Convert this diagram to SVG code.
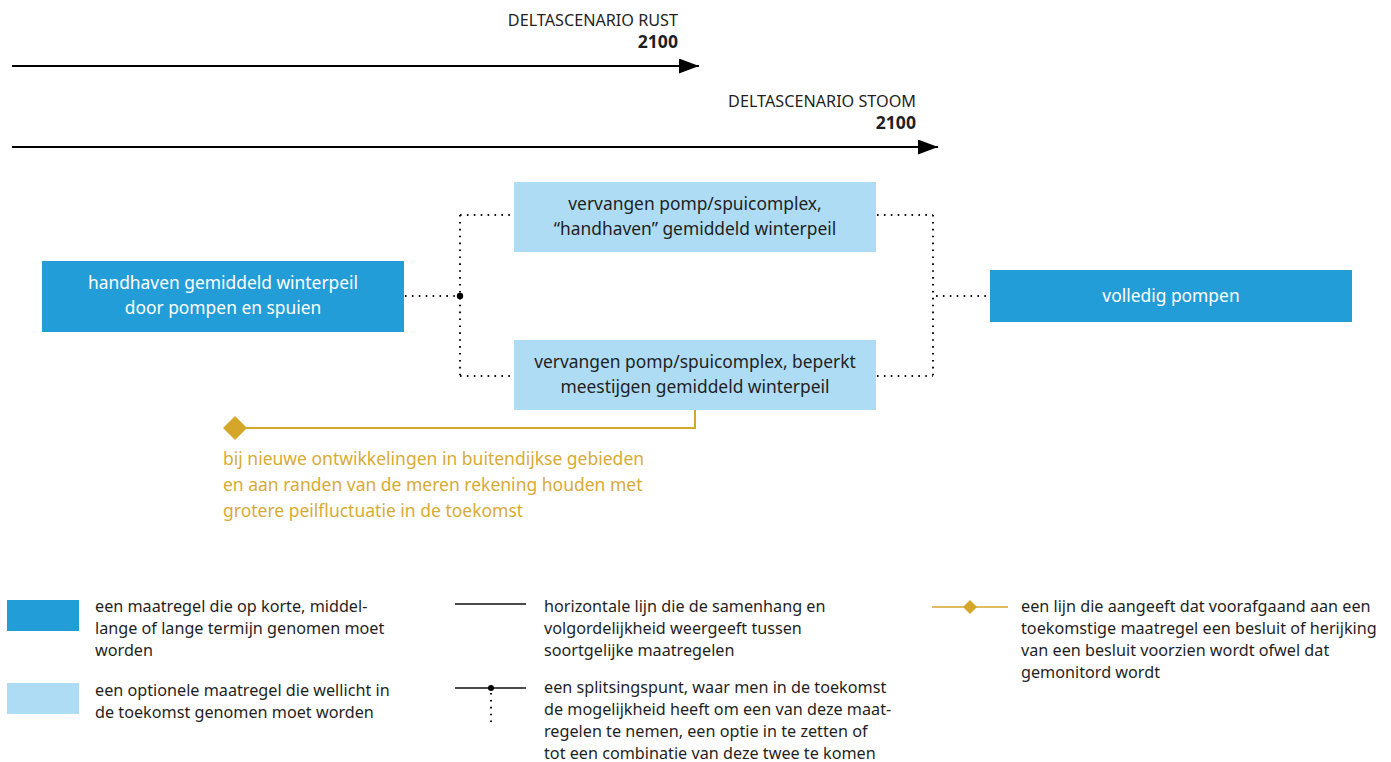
<svg xmlns="http://www.w3.org/2000/svg" width="1391" height="762" viewBox="0 0 1391 762">
<style>
text{font-family:"Noto Sans","Open Sans","Liberation Sans",sans-serif;font-size:17.4px;fill:#1f1f1f}
.w{fill:#ffffff}
.c{text-anchor:middle}
.r{text-anchor:end}
.b{font-weight:bold;font-size:17.6px}
.t{font-size:16.2px}
.g{fill:#d8ab35;font-size:17.5px}
.lg{font-size:16.2px}
.dark{fill:#239dd8}
.light{fill:#aedcf4}
.dot{fill:none;stroke:#111;stroke-width:2;stroke-dasharray:1.6 5.3;stroke-linecap:butt}
.gold{fill:none;stroke:#d4a62a;stroke-width:2}
</style>
<defs>
<marker id="ah" markerWidth="20" markerHeight="15" refX="20" refY="7.5" orient="auto" markerUnits="userSpaceOnUse">
<path d="M0,0 L20,7.5 L0,15 Z" fill="#000"/>
</marker>
</defs>
<g id="timeline-rust">
<line x1="12" y1="66" x2="699" y2="66" stroke="#000" stroke-width="2" marker-end="url(#ah)"/>
<text class="r t" x="678" y="26">DELTASCENARIO RUST</text>
<text class="r b" x="678" y="48">2100</text>
</g>
<g id="timeline-stoom">
<line x1="12" y1="147" x2="938" y2="147" stroke="#000" stroke-width="2" marker-end="url(#ah)"/>
<text class="r t" x="916" y="107">DELTASCENARIO STOOM</text>
<text class="r b" x="916" y="129">2100</text>
</g>
<g id="connectors">
<path class="dot" d="M405,296 H460"/>
<path class="dot" d="M460,215 V376"/>
<path class="dot" d="M460,215 H514"/>
<path class="dot" d="M460,376 H514"/>
<path class="dot" d="M877,215 H933"/>
<path class="dot" d="M877,376 H933"/>
<path class="dot" d="M933,215 V376"/>
<path class="dot" d="M936,296 H990"/>
<circle cx="460" cy="296" r="3.2" fill="#000"/>
<path class="gold" d="M235,428 H695 V410"/>
<path d="M235,416 L247,428 L235,440 L223,428 Z" fill="#d4a62a"/>
</g>
<g id="node-handhaven">
<rect class="dark" x="42" y="261" width="362" height="71"/>
<text class="w c" x="223" y="289">handhaven gemiddeld winterpeil</text>
<text class="w c" x="223" y="314">door pompen en spuien</text>
</g>
<g id="node-vervangen-handhaven">
<rect class="light" x="514" y="182" width="362" height="70"/>
<text class="c" x="695" y="210">vervangen pomp/spuicomplex,</text>
<text class="c" x="695" y="235">“handhaven” gemiddeld winterpeil</text>
</g>
<g id="node-vervangen-beperkt">
<rect class="light" x="514" y="340" width="362" height="70"/>
<text class="c" x="695" y="368">vervangen pomp/spuicomplex, beperkt</text>
<text class="c" x="695" y="393">meestijgen gemiddeld winterpeil</text>
</g>
<g id="node-volledig">
<rect class="dark" x="990" y="270" width="362" height="52"/>
<text class="w c" x="1171" y="302">volledig pompen</text>
</g>
<g id="note-gold">
<text class="g" x="223" y="465">bij nieuwe ontwikkelingen in buitendijkse gebieden</text>
<text class="g" x="223" y="491">en aan randen van de meren rekening houden met</text>
<text class="g" x="223" y="517">grotere peilfluctuatie in de toekomst</text>
</g>
<g id="legend">
<rect class="dark" x="7" y="600" width="72" height="31"/>
<text class="lg" x="95" y="612">een maatregel die op korte, middel-</text>
<text class="lg" x="95" y="634">lange of lange termijn genomen moet</text>
<text class="lg" x="95" y="656">worden</text>
<rect class="light" x="7" y="683" width="72" height="31"/>
<text class="lg" x="95" y="696">een optionele maatregel die wellicht in</text>
<text class="lg" x="95" y="718">de toekomst genomen moet worden</text>
<line x1="455" y1="604" x2="526" y2="604" stroke="#111" stroke-width="1.5"/>
<text class="lg" x="544" y="612">horizontale lijn die de samenhang en</text>
<text class="lg" x="544" y="634">volgordelijkheid weergeeft tussen</text>
<text class="lg" x="544" y="656">soortgelijke maatregelen</text>
<line x1="455" y1="688" x2="526" y2="688" stroke="#111" stroke-width="1.5"/>
<circle cx="491" cy="688" r="3" fill="#000"/>
<path class="dot" d="M491,693 V722"/>
<text class="lg" x="544" y="693">een splitsingspunt, waar men in de toekomst</text>
<text class="lg" x="544" y="715">de mogelijkheid heeft om een van deze maat-</text>
<text class="lg" x="544" y="737">regelen te nemen, een optie in te zetten of</text>
<text class="lg" x="544" y="759">tot een combinatie van deze twee te komen</text>
<line x1="932" y1="607" x2="1008" y2="607" stroke="#d4a62a" stroke-width="1.5"/>
<path d="M970,600 L977,607 L970,614 L963,607 Z" fill="#d4a62a"/>
<text class="lg" x="1021" y="612">een lijn die aangeeft dat voorafgaand aan een</text>
<text class="lg" x="1021" y="634">toekomstige maatregel een besluit of herijking</text>
<text class="lg" x="1021" y="656">van een besluit voorzien wordt ofwel dat</text>
<text class="lg" x="1021" y="678">gemonitord wordt</text>
</g>
</svg>
